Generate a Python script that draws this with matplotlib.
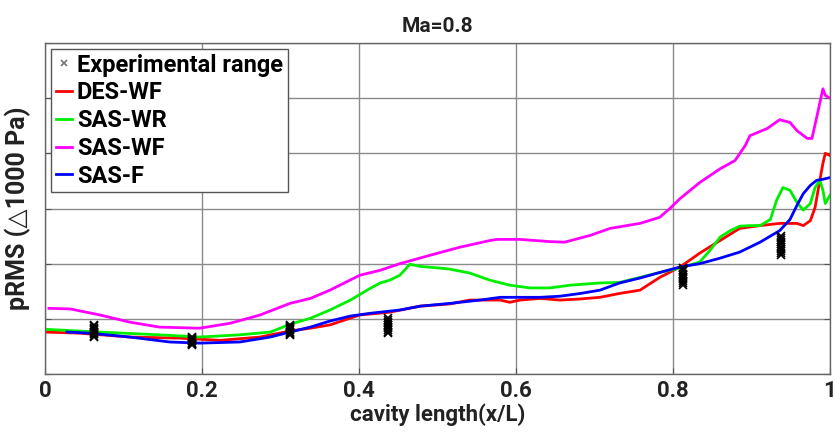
import matplotlib
matplotlib.use("Agg")
import matplotlib.pyplot as plt

# ---- data ----
des_wf_x = [0.0, 0.045, 0.108, 0.172, 0.223, 0.274, 0.312, 0.338, 0.363, 0.382, 0.401, 0.439, 0.478,
            0.516, 0.541, 0.580, 0.592, 0.605, 0.631, 0.656, 0.682, 0.707, 0.732, 0.758, 0.783, 0.809,
            0.834, 0.860, 0.885, 0.911, 0.936, 0.958, 0.966, 0.975, 0.981, 0.987, 0.991, 0.994, 1.0]
des_wf_y = [0.76, 0.74, 0.67, 0.65, 0.61, 0.67, 0.78, 0.83, 0.89, 0.98, 1.07, 1.12, 1.23,
            1.27, 1.34, 1.34, 1.30, 1.34, 1.37, 1.34, 1.36, 1.39, 1.46, 1.52, 1.75, 1.94,
            2.19, 2.42, 2.64, 2.69, 2.73, 2.73, 2.69, 2.78, 3.02, 3.51, 3.82, 4.0, 3.96]

sas_wr_x = [0.0, 0.070, 0.146, 0.197, 0.248, 0.287, 0.312, 0.338, 0.363, 0.389, 0.414, 0.427, 0.439,
            0.452, 0.465, 0.478, 0.503, 0.516, 0.541, 0.567, 0.592, 0.618, 0.643, 0.669, 0.707, 0.732,
            0.758, 0.783, 0.809, 0.834, 0.847, 0.860, 0.873, 0.885, 0.898, 0.911, 0.924, 0.932, 0.940,
            0.949, 0.958, 0.966, 0.975, 0.981, 0.987, 0.991, 0.994, 1.0]
sas_wr_y = [0.81, 0.76, 0.71, 0.67, 0.71, 0.76, 0.90, 1.01, 1.16, 1.34, 1.55, 1.65, 1.70,
            1.79, 1.99, 1.95, 1.92, 1.90, 1.83, 1.70, 1.61, 1.56, 1.56, 1.61, 1.65, 1.66,
            1.75, 1.84, 1.92, 2.03, 2.24, 2.48, 2.60, 2.68, 2.69, 2.69, 2.80, 3.15, 3.38,
            3.33, 3.11, 2.97, 3.09, 3.38, 3.51, 3.33, 3.09, 3.24]

sas_wf_x = [0.005, 0.032, 0.070, 0.108, 0.146, 0.197, 0.236, 0.274, 0.312, 0.338, 0.363, 0.401, 0.427,
            0.452, 0.490, 0.529, 0.567, 0.576, 0.605, 0.643, 0.662, 0.694, 0.720, 0.758, 0.783, 0.796,
            0.809, 0.834, 0.860, 0.879, 0.892, 0.898, 0.920, 0.936, 0.949, 0.958, 0.971, 0.977, 0.983,
            0.991, 0.994, 1.0]
sas_wf_y = [1.19, 1.18, 1.07, 0.94, 0.85, 0.83, 0.92, 1.07, 1.28, 1.37, 1.52, 1.79, 1.88,
            2.00, 2.15, 2.30, 2.42, 2.44, 2.44, 2.40, 2.39, 2.51, 2.64, 2.73, 2.84, 3.00,
            3.18, 3.47, 3.72, 3.87, 4.14, 4.32, 4.45, 4.61, 4.56, 4.41, 4.27, 4.27, 4.65,
            5.17, 5.05, 5.00]

sas_f_x = [0.028, 0.057, 0.108, 0.159, 0.197, 0.248, 0.287, 0.312, 0.338, 0.363, 0.389, 0.414, 0.452,
           0.478, 0.516, 0.554, 0.580, 0.605, 0.631, 0.656, 0.682, 0.707, 0.732, 0.758, 0.783, 0.809,
           0.834, 0.860, 0.885, 0.911, 0.936, 0.949, 0.958, 0.966, 0.975, 0.983, 0.991, 1.0]
sas_f_y = [0.76, 0.74, 0.67, 0.58, 0.56, 0.58, 0.67, 0.76, 0.85, 0.96, 1.05, 1.10, 1.16,
           1.23, 1.28, 1.34, 1.39, 1.39, 1.39, 1.41, 1.46, 1.52, 1.65, 1.74, 1.84, 1.94,
           2.00, 2.10, 2.21, 2.39, 2.60, 2.80, 3.06, 3.27, 3.42, 3.51, 3.53, 3.56]

exp_positions = [0.0625, 0.1875, 0.3125, 0.4375, 0.8125, 0.9375]
exp_values = [
    [0.89, 0.87, 0.84, 0.82, 0.79, 0.77, 0.74, 0.72, 0.69, 0.67],
    [0.67, 0.65, 0.64, 0.62, 0.60, 0.59, 0.57, 0.55, 0.54, 0.52],
    [0.89, 0.87, 0.85, 0.83, 0.81, 0.79, 0.77, 0.75, 0.73, 0.71],
    [1.01, 0.98, 0.95, 0.92, 0.89, 0.86, 0.83, 0.80, 0.77, 0.74],
    [1.93, 1.89, 1.86, 1.82, 1.79, 1.75, 1.72, 1.68, 1.65, 1.61],
    [2.51, 2.47, 2.43, 2.39, 2.35, 2.31, 2.27, 2.23, 2.19, 2.15],
]

x_ticks = [0, 0.2, 0.4, 0.6, 0.8, 1]
x_tick_labels = ["0", "0.2", "0.4", "0.6", "0.8", "1"]
y_ticks = [0, 1, 2, 3, 4, 5, 6]

# ---- figure ----
plt.rcParams['font.family'] = ['Roboto', 'DejaVu Sans']
fig = plt.figure(figsize=(8.35, 4.42), dpi=100)
ax = fig.add_axes([45 / 835, 1 - 374 / 442, 785 / 835, (374 - 43) / 442])

exp_x = [p for p, vals in zip(exp_positions, exp_values) for _ in vals]
exp_y = [v for vals in exp_values for v in vals]
ax.plot(exp_x, exp_y, linestyle='none', marker='x', color='black', markersize=6,
        markeredgewidth=1.2, label='Experimental range', zorder=3)
ax.plot(des_wf_x, des_wf_y, color='#ff0000', lw=2.0, label='DES-WF')
ax.plot(sas_wr_x, sas_wr_y, color='#00ee00', lw=2.0, label='SAS-WR')
ax.plot(sas_wf_x, sas_wf_y, color='#ff00ff', lw=2.0, label='SAS-WF')
ax.plot(sas_f_x, sas_f_y, color='#0000ff', lw=2.0, label='SAS-F')

ax.set_xlim(0, 1)
ax.set_ylim(0, 6)
ax.set_xticks(x_ticks)
ax.set_xticklabels(x_tick_labels, fontsize=16, fontweight='bold', color='#222222')
ax.set_yticks(y_ticks)
ax.set_yticklabels([])
ax.tick_params(direction='in', length=4, color='#555555', top=False, right=True, pad=4)
ax.grid(True, color='#8a8a8a', lw=1.0)
for s in ax.spines.values():
    s.set_color('#666666')
    s.set_linewidth(1.0)

ax.set_xlabel('cavity length(x/L)', fontsize=16, fontweight='bold', color='#222222', labelpad=1)
ax.set_ylabel('pRMS (\u25b31000 Pa)', fontsize=18, fontweight='bold', color='#222222', labelpad=6)
ax.set_title('Ma=0.8', fontsize=15, fontweight='bold', color='#222222', pad=8)

leg = ax.legend(loc='upper left', prop={'weight': 'bold', 'size': 17},
                handlelength=0.7, handletextpad=0.2, borderpad=0.2, labelspacing=0.2,
                borderaxespad=0.25, fancybox=False, framealpha=1, markerscale=0.7)
leg.get_frame().set_edgecolor('#555555')
leg.get_frame().set_linewidth(1.0)
leg.legend_handles[0].set_color('#777777')

fig.savefig('out.png', dpi=100)
